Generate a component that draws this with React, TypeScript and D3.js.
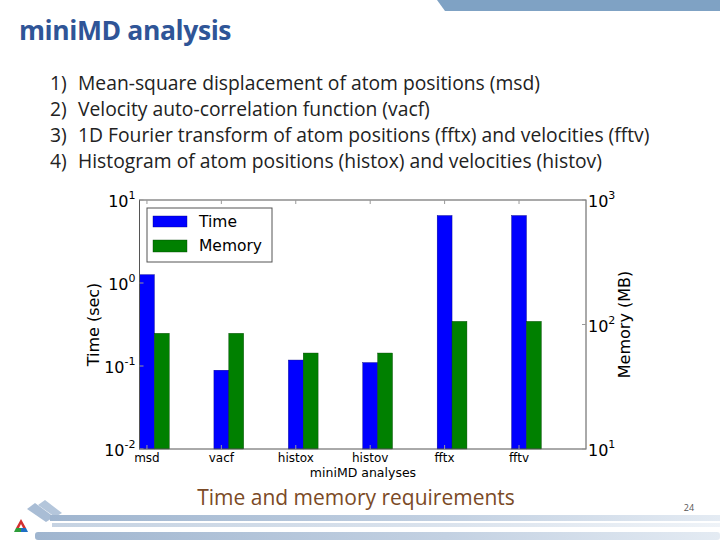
import * as d3 from "d3";

// chart data
const categories = ["msd", "vacf", "histox", "histov", "fftx", "fftv"];
const timeSec = [1.26, 0.089, 0.118, 0.11, 6.5, 6.5];
const memoryMB = [85, 85, 59, 59, 106, 106];
const timeTicks = [-2, -1, 0, 1];
const memTicks = [1, 2, 3];
const listItems = [
  "Mean-square displacement of atom positions (msd)",
  "Velocity auto-correlation function (vacf)",
  "1D Fourier transform of atom positions (fftx) and velocities (fftv)",
  "Histogram of atom positions (histox) and velocities (histov)",
];

const slideFont = "'Open Sans', 'Noto Sans', sans-serif";
const plotFont = "'DejaVu Sans', sans-serif";

export default function App() {
  const left = 139.5;
  const right = 586;
  const top = 200;
  const bottom = 449;

  const x = d3.scaleLinear().domain([0, 6]).range([left, right]);
  const yTime = d3.scaleLog().domain([0.01, 10]).range([bottom, top]);
  const yMem = d3.scaleLog().domain([10, 1000]).range([bottom, top]);
  const w = 0.2;

  return (
    <svg width={720} height={540} style={{ position: "absolute", left: 0, top: 0, background: "#fff" }}>
      <defs>
        <linearGradient id="band" x1="0" x2="1" y1="0" y2="0">
          <stop offset="0" stopColor="#9fb5cf" />
          <stop offset="0.6" stopColor="#c3d1e2" />
          <stop offset="1" stopColor="#e4ebf3" />
        </linearGradient>
      </defs>

      {/* top decoration */}
      <path d="M437,0 L720,0 L720,11 L445,11 Z" fill="#7fa2c4" />

      <text x={19} y={40} fontFamily={slideFont} fontWeight="bold" fontSize={26.5} fill="#2f5597" letterSpacing={-0.4}>
        miniMD analysis
      </text>

      {listItems.map((t, i) => (
        <g key={i} fontFamily={slideFont} fontSize={19.3} fill="#222">
          <text x={50} y={90 + i * 26}>{`${i + 1})`}</text>
          <text x={78} y={90 + i * 26}>{t}</text>
        </g>
      ))}

      {/* bars */}
      {categories.map((c, i) => (
        <g key={c}>
          <rect x={x(i)} y={yTime(timeSec[i])} width={x(i + w) - x(i)} height={bottom - yTime(timeSec[i])} fill="#0000ff" stroke="#000080" strokeWidth={0.4} />
          <rect x={x(i + w)} y={yMem(memoryMB[i])} width={x(i + 2 * w) - x(i + w)} height={bottom - yMem(memoryMB[i])} fill="#008000" stroke="#004000" strokeWidth={0.4} />
        </g>
      ))}

      {/* frame */}
      <rect x={left} y={top} width={right - left} height={bottom - top} fill="none" stroke="#555" strokeWidth={1} />

      {/* x ticks */}
      {categories.map((c, i) => {
        const cx = x(i + w / 2);
        return (
          <g key={c}>
            <line x1={cx} x2={cx} y1={bottom} y2={bottom - 4} stroke="#999" />
            <line x1={cx} x2={cx} y1={top} y2={top + 4} stroke="#999" />
            <text x={cx} y={462} textAnchor="middle" fontFamily={plotFont} fontSize={12} fill="#000">{c}</text>
          </g>
        );
      })}
      <text x={363} y={477} textAnchor="middle" fontFamily={plotFont} fontSize={12.5} fill="#000">miniMD analyses</text>

      {/* left axis */}
      {timeTicks.map((p) => (
        <g key={p}>
          <line x1={left} x2={left + 4} y1={yTime(10 ** p)} y2={yTime(10 ** p)} stroke="#999" />
          <text x={left - 4} y={yTime(10 ** p) + 7} textAnchor="end" fontFamily={plotFont} fontSize={16} fill="#000">
            10<tspan dy={-8} fontSize={11}>{p}</tspan>
          </text>
        </g>
      ))}
      <text transform={`translate(99,${(top + bottom) / 2}) rotate(-90)`} textAnchor="middle" fontFamily={plotFont} fontSize={16} fill="#000">
        Time (sec)
      </text>

      {/* right axis */}
      {memTicks.map((p) => (
        <g key={p}>
          <line x1={right} x2={right - 4} y1={yMem(10 ** p)} y2={yMem(10 ** p)} stroke="#999" />
          <text x={right + 2} y={yMem(10 ** p) + 7} fontFamily={plotFont} fontSize={16} fill="#000">
            10<tspan dy={-8} fontSize={11}>{p}</tspan>
          </text>
        </g>
      ))}
      <text transform={`translate(630,${(top + bottom) / 2}) rotate(-90)`} textAnchor="middle" fontFamily={plotFont} fontSize={16} fill="#000">
        Memory (MB)
      </text>

      {/* legend */}
      <rect x={147} y={208} width={125} height={54} fill="#fff" stroke="#555" strokeWidth={1} />
      <rect x={153} y={216} width={34} height={11} fill="#0000ff" stroke="#000080" strokeWidth={0.4} />
      <rect x={153} y={240} width={34} height={12} fill="#008000" stroke="#004000" strokeWidth={0.4} />
      <text x={199} y={227} fontFamily={plotFont} fontSize={15.5} fill="#000">Time</text>
      <text x={199} y={251} fontFamily={plotFont} fontSize={15.5} fill="#000">Memory</text>

      {/* footer */}
      <text x={356} y={505} textAnchor="middle" fontFamily={slideFont} fontSize={21} fill="#7b4a26">
        Time and memory requirements
      </text>
      <text x={689} y={511} textAnchor="middle" fontFamily={slideFont} fontSize={9} fill="#555">24</text>

      <path d="M27,509 L35,503 L54,517 L46,522 Z" fill="#a9bdd5" />
      <path d="M38,505 L45,500 L62,513 L55,517 Z" fill="#b4c6db" />
      <rect x={50} y={515} width={670} height={6} fill="url(#band)" />
      <rect x={52} y={523} width={668} height={4} fill="url(#band)" opacity={0.6} />
      <rect x={35} y={532} width={685} height={8} rx={3} fill="url(#band)" />

      {/* logo */}
      <path d="M21,519 L16,528 L19,528 L21,524 L23,528 L26,528 Z" fill="#d32f2f" />
      <path d="M16,528 L14,532 L21,532 L21,528 Z" fill="#2e9d3a" />
      <path d="M21,528 L21,532 L28,532 L26,528 Z" fill="#1e6fc4" />
    </svg>
  );
}
